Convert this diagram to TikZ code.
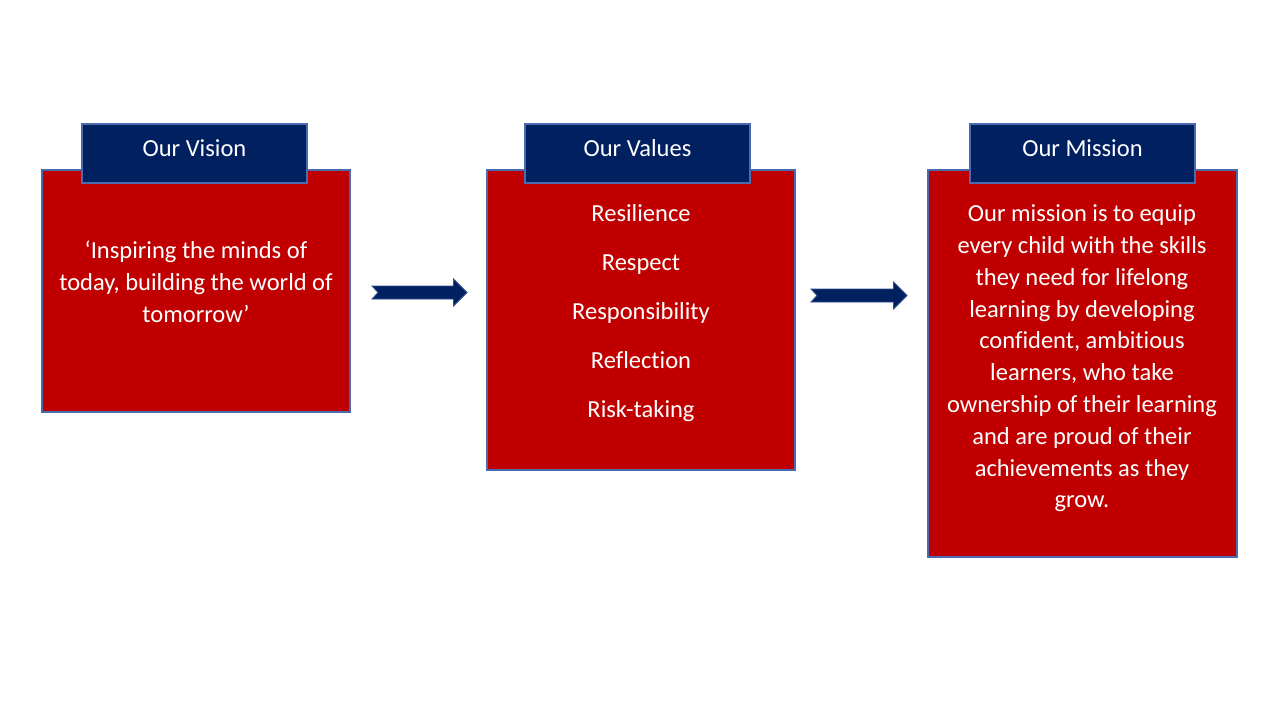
\documentclass[tikz,border=0pt]{standalone}
\usepackage{fontspec}
\setmainfont[Ligatures=NoCommon]{Carlito}
\usetikzlibrary{calc}
\definecolor{boxred}{HTML}{C00000}
\definecolor{navy}{HTML}{002060}
\definecolor{edgeblue}{HTML}{4A6BB0}
\definecolor{arrowedge}{HTML}{2F4F8F}
\newcommand{\hdtext}[1]{\raisebox{-3.2pt}[0pt][0pt]{#1}}
\begin{document}
\begin{tikzpicture}[x=1pt,y=-1pt,
  redbox/.style={draw=edgeblue,line width=1.2pt,fill=boxred,inner sep=0pt,outer sep=0pt},
  headbox/.style={draw=edgeblue,line width=1.2pt,fill=navy,inner sep=0pt,outer sep=0pt,
    minimum width=225pt,minimum height=59pt,text=white,font=\fontsize{24.5}{29}\selectfont},
  bodytext/.style={text=white,font=\fontsize{24.5}{31.8}\selectfont,align=center,inner sep=0pt},
  valtext/.style={bodytext,anchor=base},
  blockarrow/.style={fill=navy,draw=arrowedge,line width=0.8pt,line join=miter}]
\useasboundingbox (0,0) rectangle (1280,720);
% boxes
\node[redbox,minimum width=308pt,minimum height=242pt] (b1) at (196,291) {};
\node[redbox,minimum width=308pt,minimum height=300pt] (b2) at (641,320) {};
\node[redbox,minimum width=309pt,minimum height=387pt] (b3) at (1082.5,363.5) {};
% headers
\node[headbox] (h1) at (194.5,153.5) {\hdtext{Our Vision}};
\node[headbox] (h2) at (637.5,153.5) {\hdtext{Our Values}};
\node[headbox] (h3) at (1082.5,153.5) {\hdtext{Our Mission}};
% texts
\node[bodytext] (t1) at (196,282) {‘Inspiring the minds of\\today, building the world of\\tomorrow’};
\node[valtext] (v1) at (641,221) {Resilience};
\node[valtext] (v2) at (641,270) {Respect};
\node[valtext] (v3) at (641,319) {Responsibility};
\node[valtext] (v4) at (641,368) {Reflection};
\node[valtext] (v5) at (641,417) {Risk-taking};
\node[bodytext] (t3) at (1082,358.5) {Our mission is to equip\\every child with the skills\\they need for lifelong\\learning by developing\\confident, ambitious\\learners, who take\\ownership of their learning\\and are proud of their\\achievements as they\\grow.};
% arrows
\coordinate (a1s) at (372,292.5);
\coordinate (a1e) at (467,292.5);
\coordinate (a2s) at (811,295.5);
\coordinate (a2e) at (907,295.5);
\foreach \s/\e in {a1s/a1e,a2s/a2e}{
  \draw[blockarrow] ($(\s)+(0,-6.5)$) -- ($(\e)+(-13.5,-6.5)$) -- ($(\e)+(-13.5,-13.5)$)
    -- (\e) -- ($(\e)+(-13.5,13.5)$) -- ($(\e)+(-13.5,6.5)$) -- ($(\s)+(0,6.5)$)
    -- ($(\s)+(6,0)$) -- cycle;
}
\end{tikzpicture}
\end{document}
